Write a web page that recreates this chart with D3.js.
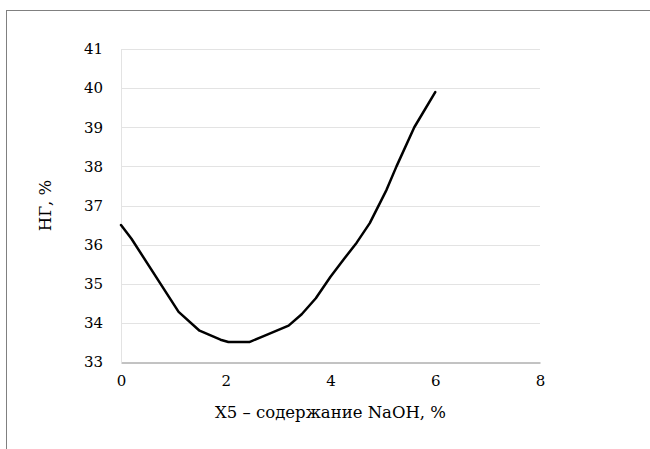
<!DOCTYPE html>
<html>
<head>
<meta charset="utf-8">
<script src="https://cdn.jsdelivr.net/npm/d3@7"></script>
<style>
  body { margin: 0; background: #fff; }
  svg text { font-family: "DejaVu Serif", "Liberation Serif", serif !important; }
</style>
</head>
<body>
<div id="chart"></div>
<script>
// data
const xVals = [0, 0.2, 1.1, 1.5, 1.9, 2.05, 2.45, 2.7, 3.2, 3.45, 3.72, 4.0, 4.25, 4.5, 4.75, 4.95, 5.07, 5.26, 5.6, 6];
const yVals = [36.5, 36.15, 34.28, 33.8, 33.57, 33.51, 33.51, 33.65, 33.93, 34.22, 34.63, 35.18, 35.62, 36.05, 36.55, 37.08, 37.4, 38.0, 39.0, 39.9];
const xTicks = [0, 2, 4, 6, 8];
const yTicks = [33, 34, 35, 36, 37, 38, 39, 40, 41];
const xTitle = 'X5 – содержание NaOH, %';
const yTitle = 'НГ, %';

const width = 650, height = 449;
const margin = {top: 49, right: 110, bottom: 87, left: 121};

const svg = d3.select('#chart').append('svg')
  .attr('width', width)
  .attr('height', height);

// outer frame (cut off at right and bottom, as in the picture)
svg.append('rect')
  .attr('x', 6.5).attr('y', 10.5)
  .attr('width', 800).attr('height', 600)
  .attr('fill', 'none')
  .attr('stroke', '#808080')
  .attr('stroke-width', 1);

const xScale = d3.scaleLinear()
  .domain([0, 8])
  .range([margin.left, width - margin.right]);
const yScale = d3.scaleLinear()
  .domain([33, 41])
  .range([height - margin.bottom, margin.top]);

// grid
svg.append('g')
  .selectAll('line')
  .data(yTicks.slice(1))
  .enter().append('line')
    .attr('x1', xScale(0)).attr('x2', xScale(8))
    .attr('y1', d => Math.round(yScale(d)) + 0.5)
    .attr('y2', d => Math.round(yScale(d)) + 0.5)
    .attr('stroke', '#e3e3e3');
svg.append('line')
  .attr('x1', Math.round(xScale(0)) + 0.5).attr('x2', Math.round(xScale(0)) + 0.5)
  .attr('y1', yScale(41)).attr('y2', yScale(33))
  .attr('stroke', '#e3e3e3');

// axes
let xAxis = g => g.attr('transform', `translate(0, ${Math.round(yScale(33)) + 0.5})`)
  .call(d3.axisBottom(xScale).tickValues(xTicks).tickSize(0).tickPadding(13))
  .call(g => g.select('.domain').attr('stroke', '#868686'))
  .call(g => g.selectAll('.tick text').attr('font-size', 15).attr('fill', '#000'));
let yAxis = g => g.attr('transform', `translate(${xScale(0)}, 0)`)
  .call(d3.axisLeft(yScale).tickValues(yTicks).tickSize(0).tickPadding(18))
  .call(g => g.select('.domain').remove())
  .call(g => g.selectAll('.tick text').attr('font-size', 15).attr('fill', '#000'));

svg.append('g').call(xAxis);
svg.append('g').call(yAxis);

// titles
svg.append('text')
  .attr('x', (xScale(0) + xScale(8)) / 2)
  .attr('y', 418)
  .attr('text-anchor', 'middle')
  .attr('font-size', 16.5)
  .text(xTitle);
svg.append('text')
  .attr('transform', `translate(51, ${(yScale(33) + yScale(41)) / 2}) rotate(-90)`)
  .attr('text-anchor', 'middle')
  .attr('font-size', 16.5)
  .text(yTitle);

// curve
let line = d3.line()
  .x(d => xScale(d[0]))
  .y(d => yScale(d[1]));

svg.append('path')
  .datum(d3.zip(xVals, yVals))
  .attr('fill', 'none')
  .attr('stroke', '#000')
  .attr('stroke-width', 2.5)
  .attr('stroke-linejoin', 'round')
  .attr('stroke-linecap', 'round')
  .attr('d', line);
</script>
</body>
</html>
